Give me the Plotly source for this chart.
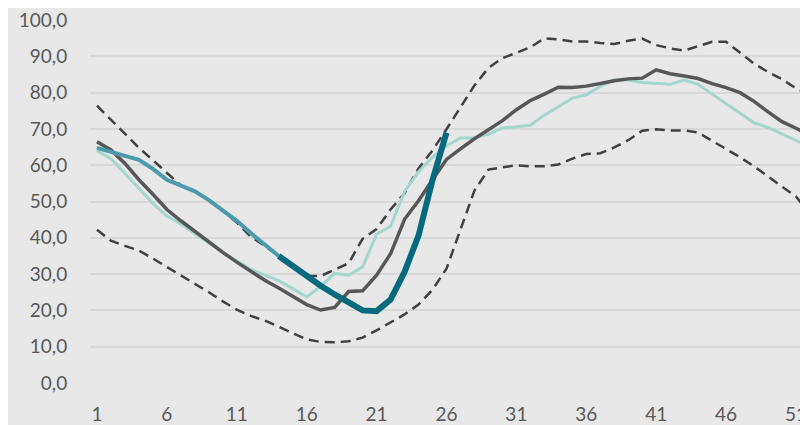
import plotly.graph_objects as go

weeks = list(range(1, 53))

median = [66.5, 64.2, 60.5, 56.0, 52.0, 47.8, 44.7, 41.7, 38.8, 36.0,
          33.3, 30.7, 28.3, 26.2, 24.0, 21.6, 20.1, 20.8, 25.2, 25.4,
          29.7, 35.6, 45.1, 50.2, 56.0, 61.6, 64.5, 67.3, 69.8, 72.3,
          75.3, 77.8, 79.6, 81.5, 81.4, 81.8, 82.5, 83.3, 83.8, 84.0,
          86.3, 85.2, 84.6, 83.9, 82.5, 81.4, 80.0, 77.6, 74.7, 72.0,
          70.2, 68.3]

upper = [76.4, 72.5, 68.6, 64.8, 61.4, 57.8, 54.4, 52.8, 50.5, 47.5,
         44.2, 40.3, 37.8, 35.0, 31.8, 29.5, 29.5, 31.2, 33.0, 39.7,
         42.4, 47.8, 52.3, 59.1, 64.1, 69.9, 76.0, 82.0, 86.8, 89.5,
         91.0, 92.5, 95.0, 94.7, 94.1, 94.1, 93.7, 93.4, 94.3, 94.9,
         93.1, 92.2, 91.6, 92.9, 94.0, 94.0, 91.1, 88.0, 85.7, 83.7,
         81.2, 79.5]

lower = [42.2, 39.2, 37.8, 36.5, 34.3, 32.0, 29.8, 27.5, 25.0, 22.5,
         20.2, 18.5, 17.2, 15.5, 13.8, 12.0, 11.3, 11.2, 11.5, 12.5,
         14.5, 16.6, 18.9, 21.6, 25.7, 31.5, 42.5, 53.0, 58.8, 59.5,
         60.0, 59.7, 59.7, 60.2, 61.8, 63.1, 63.3, 64.9, 66.9, 69.5,
         69.9, 69.6, 69.6, 69.0, 66.8, 64.5, 62.2, 59.7, 56.8, 54.1,
         51.4, 46.5]

previous = [64.0, 61.8, 57.7, 53.5, 49.5, 46.0, 43.8, 41.2, 38.5, 36.0,
            33.6, 31.3, 29.7, 28.2, 26.0, 23.7, 26.6, 30.2, 29.7, 32.0,
            41.0, 43.2, 52.8, 58.2, 62.2, 65.4, 67.5, 67.6, 68.5, 70.3,
            70.6, 71.0, 73.8, 76.2, 78.5, 79.4, 81.7, 83.5, 83.5, 82.8,
            82.6, 82.3, 83.5, 82.3, 79.6, 77.0, 74.4, 71.7, 70.4, 68.6,
            66.6, 65.0]

early_weeks = list(range(1, 15))
early = [64.8, 63.8, 62.6, 61.5, 59.0, 56.0, 54.3, 52.8, 50.4, 47.4,
         44.7, 41.3, 38.2, 35.0]

current_weeks = list(range(14, 27))
current = [35.0, 32.2, 29.4, 26.8, 24.4, 22.0, 20.0, 19.8, 23.0, 30.6,
           40.6, 55.9, 69.0]

x_tickvals = [1, 6, 11, 16, 21, 26, 31, 36, 41, 46, 51]
x_ticktext = ["1", "6", "11", "16", "21", "26", "31", "36", "41", "46", "51"]
y_tickvals = [0, 10, 20, 30, 40, 50, 60, 70, 80, 90, 100]
y_ticktext = ["0,0", "10,0", "20,0", "30,0", "40,0", "50,0", "60,0",
              "70,0", "80,0", "90,0", "100,0"]

BG = "#e7e8e7"
TXT = "#595959"
FONT = "Lato"

fig = go.Figure()
fig.add_trace(go.Scatter(x=weeks, y=upper, mode="lines",
                         line=dict(color="#404040", width=2.5, dash="10px,6px")))
fig.add_trace(go.Scatter(x=weeks, y=lower, mode="lines",
                         line=dict(color="#404040", width=2.5, dash="10px,6px")))
fig.add_trace(go.Scatter(x=weeks, y=previous, mode="lines",
                         line=dict(color="#a3d6cd", width=3)))
fig.add_trace(go.Scatter(x=weeks, y=median, mode="lines",
                         line=dict(color="#575757", width=3.5)))
fig.add_trace(go.Scatter(x=early_weeks, y=early, mode="lines",
                         line=dict(color="#4c9aae", width=4)))
fig.add_trace(go.Scatter(x=current_weeks, y=current, mode="lines",
                         line=dict(color="#056a7e", width=6)))

# partially visible (cut-off) title descender at the very top
fig.add_annotation(text="p", xref="x", yref="paper", x=19.8, y=1 + 7 / 368,
                   xanchor="left", yanchor="bottom", yshift=5, showarrow=False,
                   font=dict(family=FONT, size=19, color=TXT))

# page has an 8px body margin, so the figure is 8px smaller and margins shifted
fig.update_layout(
    width=800, height=417,
    margin=dict(l=82, r=0, t=7, b=42),
    paper_bgcolor=BG, plot_bgcolor=BG,
    showlegend=False,
    font=dict(family=FONT, size=19, color=TXT),
)
fig.update_xaxes(range=[0.5, 51.86], tickvals=x_tickvals, ticktext=x_ticktext,
                 showgrid=False, zeroline=False, showline=False,
                 ticks="outside", ticklen=14, tickcolor=BG,
                 ticklabeloverflow="allow",
                 tickfont=dict(family=FONT, size=19, color=TXT))
fig.update_yaxes(range=[0, 100.02], tickvals=y_tickvals, ticktext=y_ticktext,
                 showgrid=True, gridcolor="#d7d8d7", gridwidth=2,
                 zeroline=False, showline=False,
                 ticks="outside", ticklen=18, tickcolor=BG,
                 ticklabeloverflow="allow",
                 tickfont=dict(family=FONT, size=19, color=TXT))

fig.write_html("out.html")
